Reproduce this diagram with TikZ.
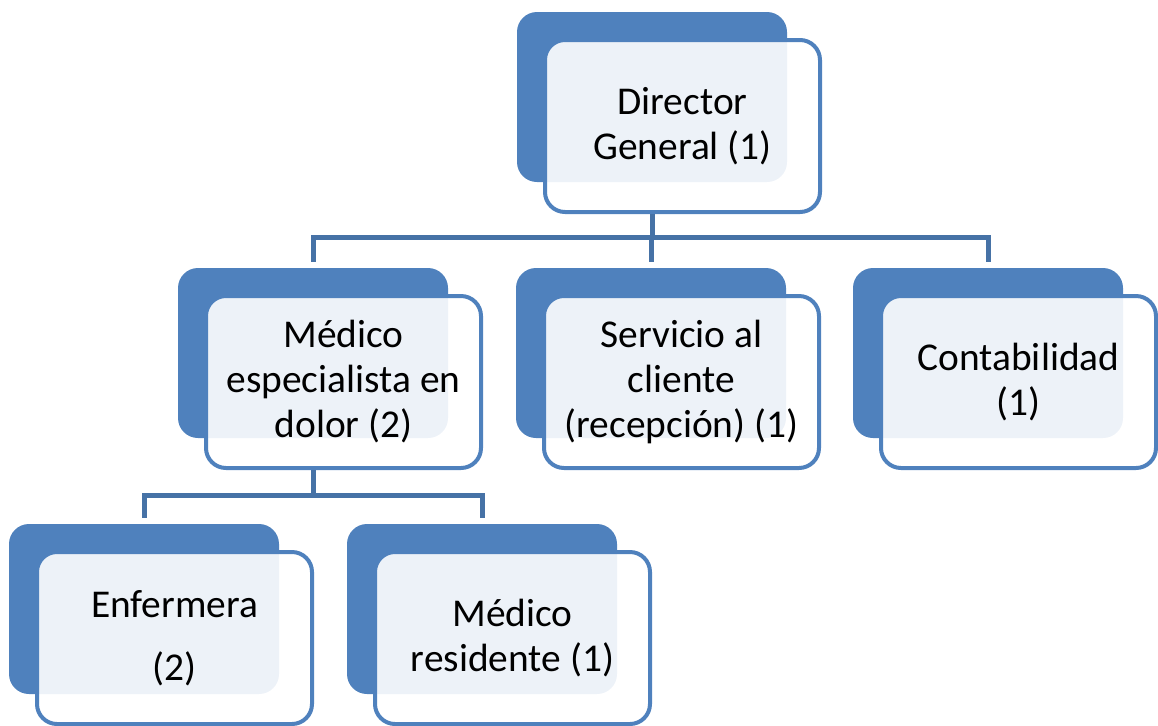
\documentclass[tikz,border=0pt]{standalone}
\usepackage{fontspec}
\setmainfont{Carlito}
\usepackage{tikz}
\usetikzlibrary{calc}
\definecolor{orgblue}{HTML}{4F81BD}
\tikzstyle{backbox} = [fill=orgblue, rectangle, rounded corners=10pt,
minimum width=135pt, minimum height=85pt]
\tikzstyle{frontbox} = [draw=orgblue, fill=white, fill opacity=0.9, text opacity=1,
line width=2pt, rectangle, rounded corners=10pt, minimum width=137.5pt,
minimum height=86pt, align=center, font=\fontsize{19.7}{22.5}\selectfont,
xshift=15.25pt, yshift=-14.5pt]
\tikzstyle{link} = [draw=orgblue!88!black, line width=2.5pt, shorten >=3pt]

\begin{document}
\begin{tikzpicture}[x=0.5pt,y=-0.5pt]
        \useasboundingbox (0,0) rectangle (1158,725);
        % top
        \node[backbox] (dirB) at (652,97) {};
        \node[frontbox] (dir) at (dirB) {Director\\General (1)};
        % second row
        \node[backbox] (medB) at (313,353) {};
        \node[frontbox] (med) at (medB) {Médico\\especialista en\\dolor (2)};
        \node[backbox] (servB) at (651,353) {};
        \node[frontbox] (serv) at (servB) {Servicio al\\cliente\\(recepción) (1)};
        \node[backbox] (contB) at (988,353) {};
        \node[frontbox] (cont) at (contB) {Contabilidad\\(1)};
        % third row
        \node[backbox] (enfB) at (144,609) {};
        \node[frontbox] (enf) at (enfB) {Enfermera\\[9pt](2)};
        \node[backbox] (resB) at (482,609) {};
        \node[frontbox] (res) at (resB) {Médico\\residente (1)};
        % connectors
        \draw[link] (dir.south -| dirB.south) -- ++(0,23) -| (medB.north);
        \draw[link] (dir.south -| dirB.south) -- ++(0,23) -| (servB.north);
        \draw[link] (dir.south -| dirB.south) -- ++(0,23) -| (contB.north);
        \draw[link] (med.south -| medB.south) -- ++(0,25) -| (enfB.north);
        \draw[link] (med.south -| medB.south) -- ++(0,25) -| (resB.north);
    \end{tikzpicture}
\end{document}
